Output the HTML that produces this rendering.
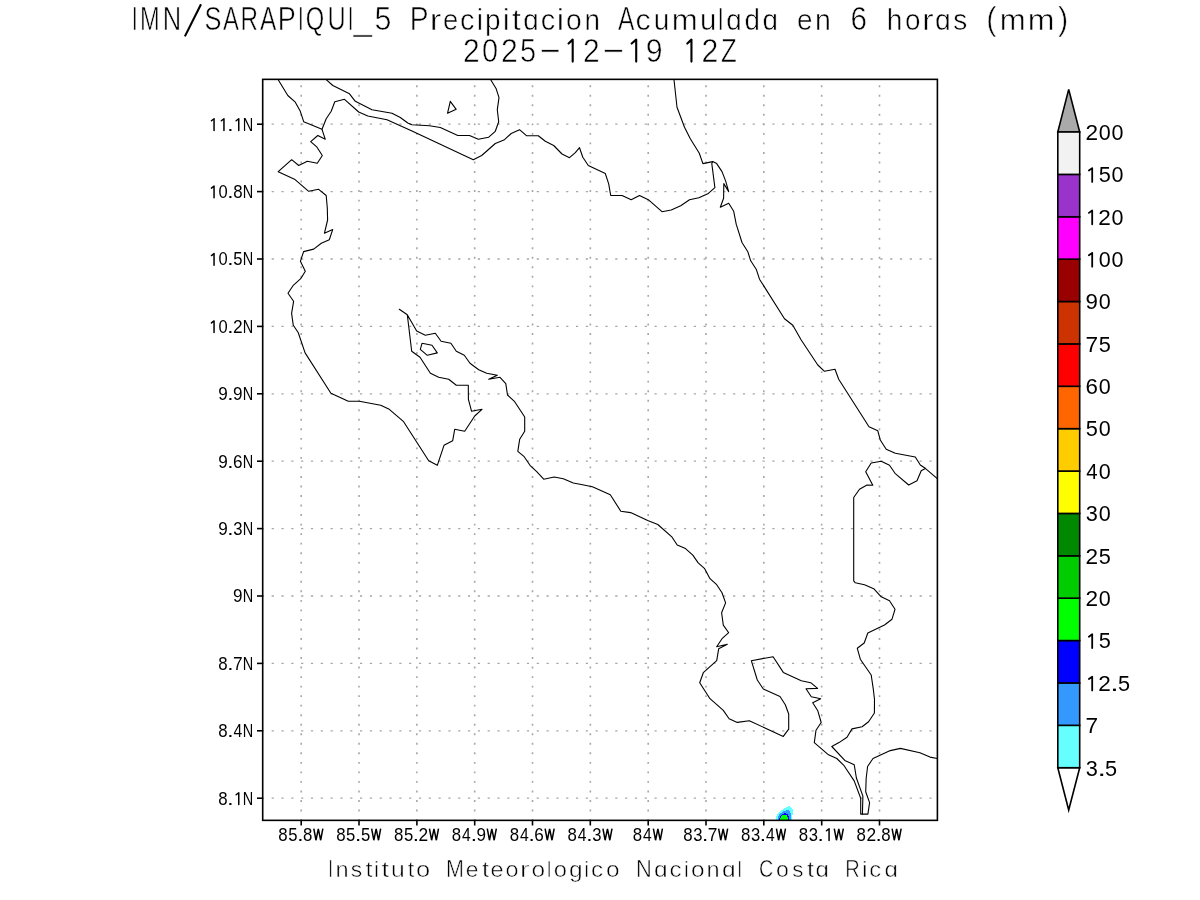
<!DOCTYPE html><html><head><meta charset="utf-8"><title>IMN SARAPIQUI_5</title>
<style>html,body{margin:0;padding:0;background:#fff;width:1200px;height:900px;overflow:hidden}svg{display:block;will-change:transform}text{font-family:"Liberation Sans",sans-serif}</style></head><body>
<svg width="1200" height="900" viewBox="0 0 1200 900">
<rect x="0" y="0" width="1200" height="900" fill="#fff"/>
<g fill="#000" stroke="#fff" stroke-width="0.6"><text transform="translate(131.92,30.20) scale(0.607,1.000)" font-size="32.70">I</text><text transform="translate(139.96,30.20) scale(0.724,1.000)" font-size="32.70">M</text><text transform="translate(162.66,30.20) scale(0.780,1.000)" font-size="32.70">N</text><line x1="184.90" y1="36.40" x2="201.00" y2="4.20" stroke="#000" stroke-width="2.1"/><text transform="translate(204.44,30.20) scale(0.778,1.000)" font-size="32.70">S</text><text transform="translate(223.05,30.20) scale(0.733,1.000)" font-size="32.70">A</text><text transform="translate(240.51,30.20) scale(0.742,1.000)" font-size="32.70">R</text><text transform="translate(259.95,30.20) scale(0.749,1.000)" font-size="32.70">A</text><text transform="translate(277.78,30.20) scale(0.827,1.000)" font-size="32.70">P</text><text transform="translate(298.12,30.20) scale(0.623,1.000)" font-size="32.70">I</text><text transform="translate(305.78,30.20) scale(0.726,1.000)" font-size="32.70">Q</text><text transform="translate(327.45,30.20) scale(0.773,1.000)" font-size="32.70">U</text><text transform="translate(348.02,30.20) scale(0.574,1.000)" font-size="32.70">I</text><text transform="translate(353.60,30.20) scale(1.018,1.000)" font-size="32.70">_</text><text transform="translate(374.38,30.20) scale(0.929,1.000)" font-size="32.70">5</text><text transform="translate(409.79,30.20) scale(0.862,1.000)" font-size="32.70">P</text><text transform="translate(429.79,30.20) scale(1.064,0.891)" font-size="32.70">r</text><text transform="translate(443.03,30.20) scale(0.841,0.891)" font-size="32.70">e</text><text transform="translate(460.02,30.20) scale(0.886,0.891)" font-size="32.70">c</text><text transform="translate(476.85,30.20) scale(0.870,0.891)" font-size="32.70">i</text><text transform="translate(484.89,30.20) scale(0.857,0.891)" font-size="32.70">p</text><text transform="translate(502.66,30.20) scale(0.957,0.891)" font-size="32.70">i</text><text transform="translate(512.02,30.20) scale(0.970,0.891)" font-size="32.70">t</text><text transform="translate(523.23,30.20) scale(0.850,0.891)" font-size="32.70">ɑ</text><text transform="translate(540.67,30.20) scale(0.886,0.891)" font-size="32.70">c</text><text transform="translate(556.79,30.20) scale(1.009,0.891)" font-size="32.70">i</text><text transform="translate(566.06,30.20) scale(0.865,0.891)" font-size="32.70">o</text><text transform="translate(584.40,30.20) scale(0.853,0.891)" font-size="32.70">n</text><text transform="translate(618.05,30.20) scale(0.752,1.000)" font-size="32.70">A</text><text transform="translate(635.61,30.20) scale(0.929,0.891)" font-size="32.70">c</text><text transform="translate(653.78,30.20) scale(0.857,0.891)" font-size="32.70">u</text><text transform="translate(671.68,30.20) scale(0.954,0.891)" font-size="32.70">m</text><text transform="translate(699.99,30.20) scale(0.900,0.891)" font-size="32.70">u</text><text transform="translate(718.10,30.20) scale(0.748,0.891)" font-size="32.70">l</text><text transform="translate(726.33,30.20) scale(0.850,0.891)" font-size="32.70">ɑ</text><text transform="translate(744.43,30.20) scale(0.850,0.891)" font-size="32.70">d</text><text transform="translate(762.58,30.20) scale(0.850,0.891)" font-size="32.70">ɑ</text><text transform="translate(796.91,30.20) scale(0.857,0.891)" font-size="32.70">e</text><text transform="translate(815.01,30.20) scale(0.871,0.891)" font-size="32.70">n</text><text transform="translate(850.39,30.20) scale(0.908,1.000)" font-size="32.70">6</text><text transform="translate(886.80,30.20) scale(0.859,0.891)" font-size="32.70">h</text><text transform="translate(905.08,30.20) scale(0.852,0.891)" font-size="32.70">o</text><text transform="translate(922.09,30.20) scale(1.064,0.891)" font-size="32.70">r</text><text transform="translate(935.06,30.20) scale(0.867,0.891)" font-size="32.70">ɑ</text><text transform="translate(953.22,30.20) scale(0.859,0.891)" font-size="32.70">s</text><text transform="translate(986.19,30.20) scale(0.940,1.000)" font-size="32.70">(</text><text transform="translate(999.83,30.20) scale(0.954,0.891)" font-size="32.70">m</text><text transform="translate(1027.87,30.20) scale(0.982,0.891)" font-size="32.70">m</text><text transform="translate(1057.92,30.20) scale(0.940,1.000)" font-size="32.70">)</text></g>
<g fill="#000" stroke="#fff" stroke-width="0.6"><text transform="translate(462.89,61.90) scale(0.903,1.000)" font-size="33.29">2</text><text transform="translate(481.97,61.90) scale(0.867,1.000)" font-size="33.29">0</text><text transform="translate(500.98,61.90) scale(0.907,1.000)" font-size="33.29">2</text><text transform="translate(520.09,61.90) scale(0.871,1.000)" font-size="33.29">5</text><text transform="translate(539.47,61.90) scale(1.082,1.000)" font-size="33.29">−</text><polyline points="568.55,43.58 572.70,39.63 572.70,61.59" fill="none" stroke="#000" stroke-width="2.1" stroke-linejoin="round" stroke-linecap="round"/><text transform="translate(582.89,61.90) scale(0.903,1.000)" font-size="33.29">2</text><text transform="translate(602.59,61.90) scale(1.104,1.000)" font-size="33.29">−</text><polyline points="631.65,43.58 636.20,39.63 636.20,61.59" fill="none" stroke="#000" stroke-width="2.1" stroke-linejoin="round" stroke-linecap="round"/><text transform="translate(645.83,61.90) scale(0.911,1.000)" font-size="33.29">9</text><polyline points="687.30,43.58 691.45,39.63 691.45,61.59" fill="none" stroke="#000" stroke-width="2.1" stroke-linejoin="round" stroke-linecap="round"/><text transform="translate(701.58,61.90) scale(0.910,1.000)" font-size="33.29">2</text><text transform="translate(721.08,61.90) scale(0.773,1.000)" font-size="33.29">Z</text></g>
<clipPath id="fr"><rect x="262.7" y="79.35" width="674.7" height="741.0"/></clipPath>
<g clip-path="url(#fr)" stroke="#a6a6a6" fill="none">
<line x1="301.20" y1="820" x2="301.20" y2="79.35" stroke-width="1.6" stroke-dasharray="1.9 7.63" stroke-dashoffset="-8.55"/>
<line x1="359.03" y1="820" x2="359.03" y2="79.35" stroke-width="1.6" stroke-dasharray="1.9 7.63" stroke-dashoffset="-8.55"/>
<line x1="416.86" y1="820" x2="416.86" y2="79.35" stroke-width="1.6" stroke-dasharray="1.9 7.63" stroke-dashoffset="-8.55"/>
<line x1="474.69" y1="820" x2="474.69" y2="79.35" stroke-width="1.6" stroke-dasharray="1.9 7.63" stroke-dashoffset="-8.55"/>
<line x1="532.52" y1="820" x2="532.52" y2="79.35" stroke-width="1.6" stroke-dasharray="1.9 7.63" stroke-dashoffset="-8.55"/>
<line x1="590.35" y1="820" x2="590.35" y2="79.35" stroke-width="1.6" stroke-dasharray="1.9 7.63" stroke-dashoffset="-8.55"/>
<line x1="648.18" y1="820" x2="648.18" y2="79.35" stroke-width="1.6" stroke-dasharray="1.9 7.63" stroke-dashoffset="-8.55"/>
<line x1="706.01" y1="820" x2="706.01" y2="79.35" stroke-width="1.6" stroke-dasharray="1.9 7.63" stroke-dashoffset="-8.55"/>
<line x1="763.84" y1="820" x2="763.84" y2="79.35" stroke-width="1.6" stroke-dasharray="1.9 7.63" stroke-dashoffset="-8.55"/>
<line x1="821.67" y1="820" x2="821.67" y2="79.35" stroke-width="1.6" stroke-dasharray="1.9 7.63" stroke-dashoffset="-8.55"/>
<line x1="879.50" y1="820" x2="879.50" y2="79.35" stroke-width="1.6" stroke-dasharray="1.9 7.63" stroke-dashoffset="-8.55"/>
<line x1="262.5" y1="124.20" x2="937.4" y2="124.20" stroke-width="1.3" stroke-dasharray="2.2 7.617" stroke-dashoffset="-9.15"/>
<line x1="262.5" y1="191.60" x2="937.4" y2="191.60" stroke-width="1.3" stroke-dasharray="2.2 7.617" stroke-dashoffset="-9.15"/>
<line x1="262.5" y1="259.00" x2="937.4" y2="259.00" stroke-width="1.3" stroke-dasharray="2.2 7.617" stroke-dashoffset="-9.15"/>
<line x1="262.5" y1="326.40" x2="937.4" y2="326.40" stroke-width="1.3" stroke-dasharray="2.2 7.617" stroke-dashoffset="-9.15"/>
<line x1="262.5" y1="393.80" x2="937.4" y2="393.80" stroke-width="1.3" stroke-dasharray="2.2 7.617" stroke-dashoffset="-9.15"/>
<line x1="262.5" y1="461.20" x2="937.4" y2="461.20" stroke-width="1.3" stroke-dasharray="2.2 7.617" stroke-dashoffset="-9.15"/>
<line x1="262.5" y1="528.60" x2="937.4" y2="528.60" stroke-width="1.3" stroke-dasharray="2.2 7.617" stroke-dashoffset="-9.15"/>
<line x1="262.5" y1="596.00" x2="937.4" y2="596.00" stroke-width="1.3" stroke-dasharray="2.2 7.617" stroke-dashoffset="-9.15"/>
<line x1="262.5" y1="663.40" x2="937.4" y2="663.40" stroke-width="1.3" stroke-dasharray="2.2 7.617" stroke-dashoffset="-9.15"/>
<line x1="262.5" y1="730.80" x2="937.4" y2="730.80" stroke-width="1.3" stroke-dasharray="2.2 7.617" stroke-dashoffset="-9.15"/>
<line x1="262.5" y1="798.20" x2="937.4" y2="798.20" stroke-width="1.3" stroke-dasharray="2.2 7.617" stroke-dashoffset="-9.15"/>
</g>
<g shape-rendering="crispEdges"><rect x="788" y="806" width="2" height="1" fill="#66ffff"/><rect x="786" y="807" width="5" height="1" fill="#66ffff"/><rect x="784" y="808" width="8" height="1" fill="#66ffff"/><rect x="783" y="809" width="10" height="1" fill="#66ffff"/><rect x="781" y="810" width="12" height="1" fill="#66ffff"/><rect x="780" y="811" width="13" height="1" fill="#66ffff"/><rect x="779" y="812" width="14" height="1" fill="#66ffff"/><rect x="778" y="813" width="15" height="1" fill="#66ffff"/><rect x="777" y="814" width="16" height="1" fill="#66ffff"/><rect x="777" y="815" width="15" height="1" fill="#66ffff"/><rect x="776" y="816" width="16" height="1" fill="#66ffff"/><rect x="776" y="817" width="16" height="1" fill="#66ffff"/><rect x="776" y="818" width="16" height="1" fill="#66ffff"/><rect x="776" y="819" width="16" height="1" fill="#66ffff"/><rect x="786" y="810" width="3" height="1" fill="#3399ff"/><rect x="783" y="811" width="7" height="1" fill="#3399ff"/><rect x="782" y="812" width="8" height="1" fill="#3399ff"/><rect x="780" y="813" width="11" height="1" fill="#3399ff"/><rect x="779" y="814" width="12" height="1" fill="#3399ff"/><rect x="779" y="815" width="12" height="1" fill="#3399ff"/><rect x="778" y="816" width="13" height="1" fill="#3399ff"/><rect x="778" y="817" width="13" height="1" fill="#3399ff"/><rect x="778" y="818" width="13" height="1" fill="#3399ff"/><rect x="778" y="819" width="13" height="1" fill="#3399ff"/><rect x="784" y="813" width="2" height="1" fill="#0000ff"/><rect x="782" y="814" width="6" height="1" fill="#0000ff"/><rect x="781" y="815" width="7" height="1" fill="#0000ff"/><rect x="780" y="816" width="9" height="1" fill="#0000ff"/><rect x="780" y="817" width="9" height="1" fill="#0000ff"/><rect x="779" y="818" width="10" height="1" fill="#0000ff"/><rect x="779" y="819" width="10" height="1" fill="#0000ff"/><rect x="782" y="815" width="5" height="1" fill="#00ff00"/><rect x="781" y="816" width="6" height="1" fill="#00ff00"/><rect x="781" y="817" width="7" height="1" fill="#00ff00"/><rect x="780" y="818" width="8" height="1" fill="#00ff00"/><rect x="780" y="819" width="8" height="1" fill="#00ff00"/></g>
<g clip-path="url(#fr)" fill="none" stroke="#000" stroke-width="1.1" stroke-linejoin="round" stroke-linecap="round">
<polyline points="278.2,79.7 287.8,95.5 295.3,102.2 300.3,111.3 303.7,121.7 322.0,129.3 325.3,139.3 317.8,135.5 310.7,141.7 317.0,147.2 322.3,155.5 317.3,163.3 307.3,161.3 298.7,165.5 291.7,159.7 278.2,171.7 294.5,179.2 308.7,191.3 318.7,189.3 326.2,195.5 327.3,208.0 327.6,220.0 324.4,233.3 332.7,229.6 329.3,239.7 321.3,243.3 313.7,249.1 303.6,251.6 300.4,261.3 305.3,271.3 300.7,278.7 293.3,285.3 288.0,293.3 293.6,301.3 291.6,313.3 293.3,325.3 298.3,332.7 298.7,334.0 305.1,352.9 330.9,393.3 348.3,401.3 359.3,401.3 380.7,405.3 389.3,409.3 403.3,421.3 428.7,460.7 437.3,465.3 444.0,445.3 452.7,440.7 454.7,429.3 464.7,431.3 474.7,416.0 482.0,409.3 471.6,411.3 468.4,399.3 468.3,385.3 456.3,385.3 448.7,379.3 438.7,377.3 430.4,373.3 420.0,357.3 411.7,351.3 407.3,314.7 399.3,309.3 407.3,314.7 416.7,331.1 425.3,335.3 435.3,333.3 441.1,341.3 450.9,343.3 456.3,351.3 464.3,355.3 470.0,363.3 478.7,369.7 486.7,373.3 497.3,375.3 488.7,379.3 500.0,377.3 505.8,383.7 507.5,395.0 514.7,401.7 524.7,417.0 524.7,431.3 519.7,439.2 517.8,451.3 524.2,456.7 530.0,465.3 536.7,471.7 543.7,479.2 554.2,477.0 563.3,478.7 573.3,483.0 580.0,484.3 592.4,486.7 610.3,494.8 620.8,511.2 630.6,512.6 647.7,520.6 657.8,524.5 672.1,537.2 677.2,545.0 685.5,548.6 692.8,555.1 698.2,562.9 704.4,568.3 710.0,578.7 716.7,584.7 722.0,592.7 725.6,602.9 721.6,612.7 723.3,625.1 728.7,632.7 722.0,638.7 716.7,646.7 727.3,644.3 718.7,648.7 716.7,660.7 703.3,672.7 699.7,682.7 710.0,698.7 723.3,710.4 729.1,718.7 737.3,722.4 749.3,720.7 783.3,736.4 788.7,729.1 788.7,714.0 785.3,704.7 780.0,696.5 763.3,689.0 757.3,680.0 751.3,660.7 773.1,656.7 783.3,672.4 801.3,680.7 810.7,682.7 817.6,688.4 806.0,688.7 811.3,696.7 820.7,698.7 812.7,702.7 817.8,710.8 821.2,722.5 816.0,730.2 814.3,742.6 828.5,754.8 836.8,758.5 844.1,765.7 854.2,780.9 860.7,798.3 860.7,814.1 867.9,814.1 869.6,802.6 865.7,791.7 866.2,778.0 867.6,766.5 873.0,758.5 890.3,750.6 900.4,748.4 919.9,752.7 930.0,757.1 937.3,758.5"/>
<polyline points="322.0,129.3 326.2,118.8 331.2,111.3 334.8,101.8 344.5,99.3 358.7,112.0 367.8,116.0 387.0,119.7 412.0,131.0 473.3,159.7 481.7,155.5 495.3,143.5 504.5,139.7 511.2,133.5 519.5,129.7 526.7,135.8 538.3,135.8 545.3,141.3 553.7,145.5 562.0,154.0 569.5,157.7 575.3,152.7 579.5,147.7 582.8,157.2 588.3,165.5 605.3,173.5 608.7,183.8 610.7,195.5 622.0,195.5 631.2,199.7 639.5,195.5 648.3,199.7 662.0,211.7 671.2,210.0 680.7,205.8 689.5,199.7 698.9,197.8 707.8,193.8 714.9,187.6 711.8,163.6 712.7,161.6"/>
<polyline points="326.2,79.7 332.8,85.5 349.5,93.8 355.3,101.3 372.0,109.7 392.0,113.3 400.3,117.5 407.8,123.0 412.0,124.7 429.5,125.8 440.3,127.5 457.8,135.5 469.5,135.5 478.3,139.3 488.7,137.2 495.3,131.3 498.7,121.7 497.3,109.7 499.0,97.7 496.2,88.8 490.7,79.7"/>
<polyline points="450.3,101.3 456.2,109.3 447.5,113.3 450.3,101.3"/>
<polyline points="422.0,343.3 432.0,345.3 437.3,352.9 427.3,355.3 420.3,349.3 422.0,343.3"/>
<polyline points="674.0,79.7 677.0,107.2 684.5,127.2 690.3,138.8 699.3,153.3 702.9,163.6 712.7,161.6 716.7,163.6 722.0,171.6 725.6,180.9 728.7,191.6 723.8,183.6 723.6,198.2 720.3,207.2 728.7,203.3 733.7,211.3 736.2,224.2 742.0,242.5 747.8,251.7 750.7,260.8 756.2,269.2 759.5,279.2 784.5,318.7 792.8,325.3 801.2,340.0 817.8,365.0 824.5,371.3 835.0,369.2 838.7,379.2 869.0,426.7 877.8,430.8 880.3,440.0 886.2,449.2 895.3,453.3 915.3,457.0 920.3,465.0 925.3,468.3 937.0,478.3"/>
<polyline points="925.3,468.5 921.2,470.8 917.0,480.8 908.7,485.0 895.0,473.3 889.5,465.3 881.2,461.2 871.2,463.0 865.7,471.7 872.8,485.3 867.0,485.0 859.5,489.2 853.7,497.5 853.7,580.8 855.3,582.8 864.5,584.7 873.7,588.7 881.2,596.8 889.5,600.8 895.0,609.3 892.0,619.2 884.5,625.0 867.8,633.0 864.2,643.0 857.3,648.3 860.3,659.2 871.2,675.0 873.3,689.2 874.5,699.2 874.4,713.0 868.6,721.7 862.1,726.7 852.0,728.9 847.0,737.3 839.0,742.6 831.8,746.5 844.8,760.4 854.2,764.7 856.4,778.0 862.9,796.1 862.4,814.1"/>
</g>
<rect x="262.7" y="79.35" width="674.7" height="741.0" fill="none" stroke="#000" stroke-width="1.6"/>
<g stroke="#000" stroke-width="1.6">
<line x1="301.2" y1="820.35" x2="301.2" y2="825.5"/>
<line x1="359.0" y1="820.35" x2="359.0" y2="825.5"/>
<line x1="416.9" y1="820.35" x2="416.9" y2="825.5"/>
<line x1="474.7" y1="820.35" x2="474.7" y2="825.5"/>
<line x1="532.5" y1="820.35" x2="532.5" y2="825.5"/>
<line x1="590.3" y1="820.35" x2="590.3" y2="825.5"/>
<line x1="648.2" y1="820.35" x2="648.2" y2="825.5"/>
<line x1="706.0" y1="820.35" x2="706.0" y2="825.5"/>
<line x1="763.8" y1="820.35" x2="763.8" y2="825.5"/>
<line x1="821.7" y1="820.35" x2="821.7" y2="825.5"/>
<line x1="879.5" y1="820.35" x2="879.5" y2="825.5"/>
<line x1="257" y1="124.2" x2="262.7" y2="124.2"/>
<line x1="257" y1="191.6" x2="262.7" y2="191.6"/>
<line x1="257" y1="259.0" x2="262.7" y2="259.0"/>
<line x1="257" y1="326.4" x2="262.7" y2="326.4"/>
<line x1="257" y1="393.8" x2="262.7" y2="393.8"/>
<line x1="257" y1="461.2" x2="262.7" y2="461.2"/>
<line x1="257" y1="528.6" x2="262.7" y2="528.6"/>
<line x1="257" y1="596.0" x2="262.7" y2="596.0"/>
<line x1="257" y1="663.4" x2="262.7" y2="663.4"/>
<line x1="257" y1="730.8" x2="262.7" y2="730.8"/>
<line x1="257" y1="798.2" x2="262.7" y2="798.2"/>
</g>
<g fill="#000"><text transform="translate(278.32,840.60) scale(0.942,1.000)" font-size="17.88">8</text><text transform="translate(288.28,840.60) scale(0.932,1.000)" font-size="17.88">5</text><text transform="translate(297.14,840.60) scale(1.263,1.000)" font-size="17.88">.</text><text transform="translate(303.02,840.60) scale(0.942,1.000)" font-size="17.88">8</text><polyline points="313.80,828.68 315.97,840.23 318.32,828.90 320.68,840.23 322.85,828.68" fill="none" stroke="#000" stroke-width="1.5" stroke-linejoin="miter" stroke-miterlimit="3"/><text transform="translate(336.15,840.60) scale(0.942,1.000)" font-size="17.88">8</text><text transform="translate(346.11,840.60) scale(0.932,1.000)" font-size="17.88">5</text><text transform="translate(354.97,840.60) scale(1.263,1.000)" font-size="17.88">.</text><text transform="translate(360.91,840.60) scale(0.932,1.000)" font-size="17.88">5</text><polyline points="371.63,828.68 373.80,840.23 376.15,828.90 378.51,840.23 380.68,828.68" fill="none" stroke="#000" stroke-width="1.5" stroke-linejoin="miter" stroke-miterlimit="3"/><text transform="translate(393.98,840.60) scale(0.942,1.000)" font-size="17.88">8</text><text transform="translate(403.94,840.60) scale(0.932,1.000)" font-size="17.88">5</text><text transform="translate(412.80,840.60) scale(1.263,1.000)" font-size="17.88">.</text><text transform="translate(418.54,840.60) scale(0.970,1.000)" font-size="17.88">2</text><polyline points="429.46,828.68 431.63,840.23 433.98,828.90 436.34,840.23 438.51,828.68" fill="none" stroke="#000" stroke-width="1.5" stroke-linejoin="miter" stroke-miterlimit="3"/><text transform="translate(451.81,840.60) scale(0.942,1.000)" font-size="17.88">8</text><text transform="translate(462.08,840.60) scale(0.877,1.000)" font-size="17.88">4</text><text transform="translate(470.63,840.60) scale(1.263,1.000)" font-size="17.88">.</text><text transform="translate(476.44,840.60) scale(0.957,1.000)" font-size="17.88">9</text><polyline points="487.29,828.68 489.46,840.23 491.81,828.90 494.17,840.23 496.34,828.68" fill="none" stroke="#000" stroke-width="1.5" stroke-linejoin="miter" stroke-miterlimit="3"/><text transform="translate(509.64,840.60) scale(0.942,1.000)" font-size="17.88">8</text><text transform="translate(519.91,840.60) scale(0.877,1.000)" font-size="17.88">4</text><text transform="translate(528.46,840.60) scale(1.263,1.000)" font-size="17.88">.</text><text transform="translate(534.20,840.60) scale(0.958,1.000)" font-size="17.88">6</text><polyline points="545.12,828.68 547.29,840.23 549.64,828.90 552.00,840.23 554.17,828.68" fill="none" stroke="#000" stroke-width="1.5" stroke-linejoin="miter" stroke-miterlimit="3"/><text transform="translate(567.47,840.60) scale(0.942,1.000)" font-size="17.88">8</text><text transform="translate(577.74,840.60) scale(0.877,1.000)" font-size="17.88">4</text><text transform="translate(586.29,840.60) scale(1.263,1.000)" font-size="17.88">.</text><text transform="translate(592.27,840.60) scale(0.932,1.000)" font-size="17.88">3</text><polyline points="602.95,828.68 605.12,840.23 607.47,828.90 609.83,840.23 612.00,828.68" fill="none" stroke="#000" stroke-width="1.5" stroke-linejoin="miter" stroke-miterlimit="3"/><text transform="translate(632.70,840.60) scale(0.942,1.000)" font-size="17.88">8</text><text transform="translate(642.97,840.60) scale(0.877,1.000)" font-size="17.88">4</text><polyline points="653.38,828.68 655.55,840.23 657.90,828.90 660.26,840.23 662.43,828.68" fill="none" stroke="#000" stroke-width="1.5" stroke-linejoin="miter" stroke-miterlimit="3"/><text transform="translate(683.13,840.60) scale(0.942,1.000)" font-size="17.88">8</text><text transform="translate(693.13,840.60) scale(0.932,1.000)" font-size="17.88">3</text><text transform="translate(701.95,840.60) scale(1.263,1.000)" font-size="17.88">.</text><text transform="translate(707.67,840.60) scale(0.972,1.000)" font-size="17.88">7</text><polyline points="718.61,828.68 720.78,840.23 723.13,828.90 725.49,840.23 727.66,828.68" fill="none" stroke="#000" stroke-width="1.5" stroke-linejoin="miter" stroke-miterlimit="3"/><text transform="translate(740.96,840.60) scale(0.942,1.000)" font-size="17.88">8</text><text transform="translate(750.96,840.60) scale(0.932,1.000)" font-size="17.88">3</text><text transform="translate(759.78,840.60) scale(1.263,1.000)" font-size="17.88">.</text><text transform="translate(766.03,840.60) scale(0.877,1.000)" font-size="17.88">4</text><polyline points="776.44,828.68 778.61,840.23 780.96,828.90 783.32,840.23 785.49,828.68" fill="none" stroke="#000" stroke-width="1.5" stroke-linejoin="miter" stroke-miterlimit="3"/><text transform="translate(798.79,840.60) scale(0.942,1.000)" font-size="17.88">8</text><text transform="translate(808.79,840.60) scale(0.932,1.000)" font-size="17.88">3</text><text transform="translate(817.61,840.60) scale(1.263,1.000)" font-size="17.88">.</text><polyline points="826.47,830.76 829.07,828.75 829.07,840.38" fill="none" stroke="#000" stroke-width="1.5" stroke-linejoin="round" stroke-linecap="round"/><polyline points="834.27,828.68 836.44,840.23 838.79,828.90 841.15,840.23 843.32,828.68" fill="none" stroke="#000" stroke-width="1.5" stroke-linejoin="miter" stroke-miterlimit="3"/><text transform="translate(856.62,840.60) scale(0.942,1.000)" font-size="17.88">8</text><text transform="translate(866.38,840.60) scale(0.970,1.000)" font-size="17.88">2</text><text transform="translate(875.44,840.60) scale(1.263,1.000)" font-size="17.88">.</text><text transform="translate(881.32,840.60) scale(0.942,1.000)" font-size="17.88">8</text><polyline points="892.10,828.68 894.27,840.23 896.62,828.90 898.98,840.23 901.15,828.68" fill="none" stroke="#000" stroke-width="1.5" stroke-linejoin="miter" stroke-miterlimit="3"/><polyline points="211.45,120.76 214.05,118.75 214.05,130.38" fill="none" stroke="#000" stroke-width="1.5" stroke-linejoin="round" stroke-linecap="round"/><polyline points="221.35,120.76 223.95,118.75 223.95,130.38" fill="none" stroke="#000" stroke-width="1.5" stroke-linejoin="round" stroke-linecap="round"/><text transform="translate(227.29,130.60) scale(1.263,1.000)" font-size="17.88">.</text><polyline points="236.15,120.76 238.75,118.75 238.75,130.38" fill="none" stroke="#000" stroke-width="1.5" stroke-linejoin="round" stroke-linecap="round"/><text transform="translate(242.71,130.60) scale(0.811,1.000)" font-size="17.88">N</text><polyline points="211.45,188.16 214.05,186.15 214.05,197.78" fill="none" stroke="#000" stroke-width="1.5" stroke-linejoin="round" stroke-linecap="round"/><text transform="translate(218.45,198.00) scale(0.924,1.000)" font-size="17.88">0</text><text transform="translate(227.29,198.00) scale(1.263,1.000)" font-size="17.88">.</text><text transform="translate(233.17,198.00) scale(0.942,1.000)" font-size="17.88">8</text><text transform="translate(242.71,198.00) scale(0.811,1.000)" font-size="17.88">N</text><polyline points="211.45,255.56 214.05,253.55 214.05,265.17" fill="none" stroke="#000" stroke-width="1.5" stroke-linejoin="round" stroke-linecap="round"/><text transform="translate(218.45,265.40) scale(0.924,1.000)" font-size="17.88">0</text><text transform="translate(227.29,265.40) scale(1.263,1.000)" font-size="17.88">.</text><text transform="translate(233.23,265.40) scale(0.932,1.000)" font-size="17.88">5</text><text transform="translate(242.71,265.40) scale(0.811,1.000)" font-size="17.88">N</text><polyline points="211.45,322.96 214.05,320.95 214.05,332.57" fill="none" stroke="#000" stroke-width="1.5" stroke-linejoin="round" stroke-linecap="round"/><text transform="translate(218.45,332.80) scale(0.924,1.000)" font-size="17.88">0</text><text transform="translate(227.29,332.80) scale(1.263,1.000)" font-size="17.88">.</text><text transform="translate(233.03,332.80) scale(0.970,1.000)" font-size="17.88">2</text><text transform="translate(242.71,332.80) scale(0.811,1.000)" font-size="17.88">N</text><text transform="translate(218.30,400.20) scale(0.957,1.000)" font-size="17.88">9</text><text transform="translate(227.29,400.20) scale(1.263,1.000)" font-size="17.88">.</text><text transform="translate(233.10,400.20) scale(0.957,1.000)" font-size="17.88">9</text><text transform="translate(242.71,400.20) scale(0.811,1.000)" font-size="17.88">N</text><text transform="translate(218.30,467.60) scale(0.957,1.000)" font-size="17.88">9</text><text transform="translate(227.29,467.60) scale(1.263,1.000)" font-size="17.88">.</text><text transform="translate(233.03,467.60) scale(0.958,1.000)" font-size="17.88">6</text><text transform="translate(242.71,467.60) scale(0.811,1.000)" font-size="17.88">N</text><text transform="translate(218.30,535.00) scale(0.957,1.000)" font-size="17.88">9</text><text transform="translate(227.29,535.00) scale(1.263,1.000)" font-size="17.88">.</text><text transform="translate(233.27,535.00) scale(0.932,1.000)" font-size="17.88">3</text><text transform="translate(242.71,535.00) scale(0.811,1.000)" font-size="17.88">N</text><text transform="translate(233.10,602.40) scale(0.957,1.000)" font-size="17.88">9</text><text transform="translate(242.71,602.40) scale(0.811,1.000)" font-size="17.88">N</text><text transform="translate(218.37,669.80) scale(0.942,1.000)" font-size="17.88">8</text><text transform="translate(227.29,669.80) scale(1.263,1.000)" font-size="17.88">.</text><text transform="translate(233.01,669.80) scale(0.972,1.000)" font-size="17.88">7</text><text transform="translate(242.71,669.80) scale(0.811,1.000)" font-size="17.88">N</text><text transform="translate(218.37,737.20) scale(0.942,1.000)" font-size="17.88">8</text><text transform="translate(227.29,737.20) scale(1.263,1.000)" font-size="17.88">.</text><text transform="translate(233.54,737.20) scale(0.877,1.000)" font-size="17.88">4</text><text transform="translate(242.71,737.20) scale(0.811,1.000)" font-size="17.88">N</text><text transform="translate(218.37,804.60) scale(0.942,1.000)" font-size="17.88">8</text><text transform="translate(227.29,804.60) scale(1.263,1.000)" font-size="17.88">.</text><polyline points="236.15,794.76 238.75,792.75 238.75,804.38" fill="none" stroke="#000" stroke-width="1.5" stroke-linejoin="round" stroke-linecap="round"/><text transform="translate(242.71,804.60) scale(0.811,1.000)" font-size="17.88">N</text></g>
<g stroke="#000" stroke-width="1.6" stroke-linejoin="miter">
<polygon points="1057.8,767.7 1079.7,767.7 1068.7,810" fill="#fff"/>
<polygon points="1057.8,132.0 1079.7,132.0 1068.7,89.4" fill="#aaaaaa"/>
<rect x="1057.8" y="725.32" width="21.9" height="42.38" fill="#66ffff"/>
<rect x="1057.8" y="682.94" width="21.9" height="42.38" fill="#3399ff"/>
<rect x="1057.8" y="640.56" width="21.9" height="42.38" fill="#0000ff"/>
<rect x="1057.8" y="598.18" width="21.9" height="42.38" fill="#00ff00"/>
<rect x="1057.8" y="555.80" width="21.9" height="42.38" fill="#00cc00"/>
<rect x="1057.8" y="513.42" width="21.9" height="42.38" fill="#008800"/>
<rect x="1057.8" y="471.04" width="21.9" height="42.38" fill="#ffff00"/>
<rect x="1057.8" y="428.66" width="21.9" height="42.38" fill="#ffcc00"/>
<rect x="1057.8" y="386.28" width="21.9" height="42.38" fill="#ff6600"/>
<rect x="1057.8" y="343.90" width="21.9" height="42.38" fill="#ff0000"/>
<rect x="1057.8" y="301.52" width="21.9" height="42.38" fill="#cc3300"/>
<rect x="1057.8" y="259.14" width="21.9" height="42.38" fill="#990000"/>
<rect x="1057.8" y="216.76" width="21.9" height="42.38" fill="#ff00ff"/>
<rect x="1057.8" y="174.38" width="21.9" height="42.38" fill="#9933cc"/>
<rect x="1057.8" y="132.00" width="21.9" height="42.38" fill="#f2f2f2"/>
</g>
<g fill="#000"><text transform="translate(1085.77,775.50) scale(1.024,1.000)" font-size="21.22">3</text><text transform="translate(1097.42,775.50) scale(1.435,1.000)" font-size="21.22">.</text><text transform="translate(1105.03,775.50) scale(1.024,1.000)" font-size="21.22">5</text><text transform="translate(1085.44,733.12) scale(1.068,1.000)" font-size="21.22">7</text><polyline points="1088.90,679.06 1092.20,676.68 1092.20,690.47" fill="none" stroke="#000" stroke-width="1.8" stroke-linejoin="round" stroke-linecap="round"/><text transform="translate(1098.36,690.74) scale(1.065,1.000)" font-size="21.22">2</text><text transform="translate(1110.32,690.74) scale(1.435,1.000)" font-size="21.22">.</text><text transform="translate(1117.93,690.74) scale(1.024,1.000)" font-size="21.22">5</text><polyline points="1088.90,636.68 1092.20,634.30 1092.20,648.09" fill="none" stroke="#000" stroke-width="1.8" stroke-linejoin="round" stroke-linecap="round"/><text transform="translate(1098.63,648.36) scale(1.024,1.000)" font-size="21.22">5</text><text transform="translate(1085.46,605.98) scale(1.065,1.000)" font-size="21.22">2</text><text transform="translate(1098.66,605.98) scale(1.015,1.000)" font-size="21.22">0</text><text transform="translate(1085.46,563.60) scale(1.065,1.000)" font-size="21.22">2</text><text transform="translate(1098.63,563.60) scale(1.024,1.000)" font-size="21.22">5</text><text transform="translate(1085.77,521.22) scale(1.024,1.000)" font-size="21.22">3</text><text transform="translate(1098.66,521.22) scale(1.015,1.000)" font-size="21.22">0</text><text transform="translate(1086.13,478.84) scale(0.963,1.000)" font-size="21.22">4</text><text transform="translate(1098.66,478.84) scale(1.015,1.000)" font-size="21.22">0</text><text transform="translate(1085.73,436.46) scale(1.024,1.000)" font-size="21.22">5</text><text transform="translate(1098.66,436.46) scale(1.015,1.000)" font-size="21.22">0</text><text transform="translate(1085.47,394.08) scale(1.052,1.000)" font-size="21.22">6</text><text transform="translate(1098.66,394.08) scale(1.015,1.000)" font-size="21.22">0</text><text transform="translate(1085.44,351.70) scale(1.068,1.000)" font-size="21.22">7</text><text transform="translate(1098.63,351.70) scale(1.024,1.000)" font-size="21.22">5</text><text transform="translate(1085.55,309.32) scale(1.051,1.000)" font-size="21.22">9</text><text transform="translate(1098.66,309.32) scale(1.015,1.000)" font-size="21.22">0</text><polyline points="1088.90,255.26 1092.20,252.88 1092.20,266.67" fill="none" stroke="#000" stroke-width="1.8" stroke-linejoin="round" stroke-linecap="round"/><text transform="translate(1098.66,266.94) scale(1.015,1.000)" font-size="21.22">0</text><text transform="translate(1111.56,266.94) scale(1.015,1.000)" font-size="21.22">0</text><polyline points="1088.90,212.88 1092.20,210.50 1092.20,224.29" fill="none" stroke="#000" stroke-width="1.8" stroke-linejoin="round" stroke-linecap="round"/><text transform="translate(1098.36,224.56) scale(1.065,1.000)" font-size="21.22">2</text><text transform="translate(1111.56,224.56) scale(1.015,1.000)" font-size="21.22">0</text><polyline points="1088.90,170.50 1092.20,168.12 1092.20,181.91" fill="none" stroke="#000" stroke-width="1.8" stroke-linejoin="round" stroke-linecap="round"/><text transform="translate(1098.63,182.18) scale(1.024,1.000)" font-size="21.22">5</text><text transform="translate(1111.56,182.18) scale(1.015,1.000)" font-size="21.22">0</text><text transform="translate(1085.46,139.80) scale(1.065,1.000)" font-size="21.22">2</text><text transform="translate(1098.66,139.80) scale(1.015,1.000)" font-size="21.22">0</text><text transform="translate(1111.56,139.80) scale(1.015,1.000)" font-size="21.22">0</text></g>
<g fill="#000" stroke="#fff" stroke-width="0.55"><text transform="translate(328.41,876.60) scale(0.630,1.000)" font-size="23.84">I</text><text transform="translate(335.44,876.60) scale(0.988,0.953)" font-size="23.84">n</text><text transform="translate(350.86,876.60) scale(0.962,0.953)" font-size="23.84">s</text><text transform="translate(365.61,876.60) scale(1.068,0.953)" font-size="23.84">t</text><text transform="translate(373.98,876.60) scale(0.955,0.953)" font-size="23.84">i</text><text transform="translate(381.59,876.60) scale(1.150,0.953)" font-size="23.84">t</text><text transform="translate(390.89,876.60) scale(1.037,0.953)" font-size="23.84">u</text><text transform="translate(407.64,876.60) scale(0.986,0.953)" font-size="23.84">t</text><text transform="translate(415.93,876.60) scale(1.066,0.953)" font-size="23.84">o</text><text transform="translate(446.03,876.60) scale(0.903,1.000)" font-size="23.84">M</text><text transform="translate(465.83,876.60) scale(0.957,0.953)" font-size="23.84">e</text><text transform="translate(482.11,876.60) scale(1.068,0.953)" font-size="23.84">t</text><text transform="translate(490.50,876.60) scale(0.983,0.953)" font-size="23.84">e</text><text transform="translate(505.52,876.60) scale(0.977,0.953)" font-size="23.84">o</text><text transform="translate(519.89,876.60) scale(1.208,0.953)" font-size="23.84">r</text><text transform="translate(531.48,876.60) scale(1.022,0.953)" font-size="23.84">o</text><text transform="translate(547.35,876.60) scale(0.716,0.953)" font-size="23.84">l</text><text transform="translate(553.80,876.60) scale(0.995,0.953)" font-size="23.84">o</text><text transform="translate(568.97,876.60) scale(1.026,0.953)" font-size="23.84">g</text><text transform="translate(584.51,876.60) scale(0.811,0.953)" font-size="23.84">i</text><text transform="translate(590.97,876.60) scale(1.022,0.953)" font-size="23.84">c</text><text transform="translate(605.98,876.60) scale(1.022,0.953)" font-size="23.84">o</text><text transform="translate(636.01,876.60) scale(0.916,1.000)" font-size="23.84">N</text><text transform="translate(653.97,876.60) scale(1.026,0.953)" font-size="23.84">ɑ</text><text transform="translate(669.47,876.60) scale(1.022,0.953)" font-size="23.84">c</text><text transform="translate(684.21,876.60) scale(0.811,0.953)" font-size="23.84">i</text><text transform="translate(690.98,876.60) scale(1.022,0.953)" font-size="23.84">o</text><text transform="translate(706.44,876.60) scale(0.988,0.953)" font-size="23.84">n</text><text transform="translate(721.97,876.60) scale(1.026,0.953)" font-size="23.84">ɑ</text><text transform="translate(737.85,876.60) scale(0.716,0.953)" font-size="23.84">l</text><text transform="translate(759.00,876.60) scale(0.828,1.000)" font-size="23.84">C</text><text transform="translate(776.03,876.60) scale(0.968,0.953)" font-size="23.84">o</text><text transform="translate(792.13,876.60) scale(0.938,0.953)" font-size="23.84">s</text><text transform="translate(807.01,876.60) scale(1.068,0.953)" font-size="23.84">t</text><text transform="translate(815.59,876.60) scale(1.007,0.953)" font-size="23.84">ɑ</text><text transform="translate(845.26,876.60) scale(0.841,1.000)" font-size="23.84">R</text><text transform="translate(862.03,876.60) scale(1.050,0.953)" font-size="23.84">i</text><text transform="translate(869.19,876.60) scale(1.002,0.953)" font-size="23.84">c</text><text transform="translate(884.39,876.60) scale(1.007,0.953)" font-size="23.84">ɑ</text></g>
</svg></body></html>
